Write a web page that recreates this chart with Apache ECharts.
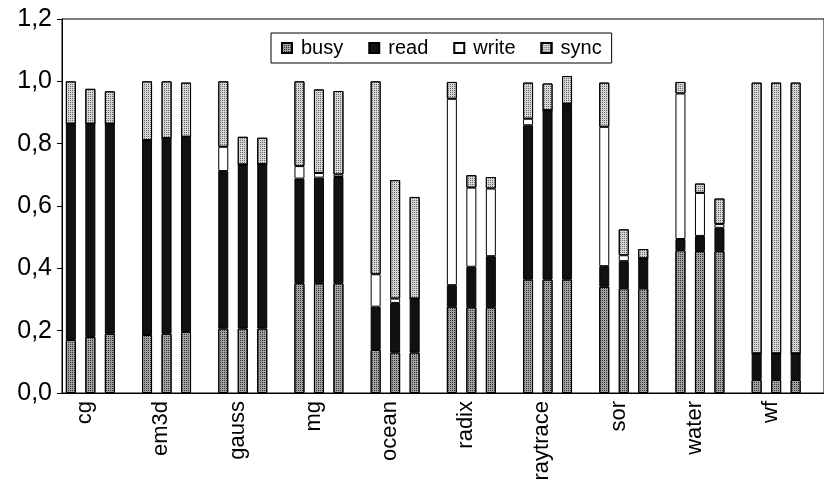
<!DOCTYPE html>
<html>
<head>
<meta charset="utf-8">
<script src="https://cdn.jsdelivr.net/npm/echarts@6/dist/echarts.min.js"></script>
<style>
html,body{margin:0;padding:0;background:#fff;}
#chart{width:824px;height:490px;}
</style>
</head>
<body>
<div id="chart"></div>
<script>
const categories = ['cg','em3d','gauss','mg','ocean','radix','raytrace','sor','water','wf'];
const seriesNames = ['busy','read','write','sync'];
const yTicks = [0, 0.2, 0.4, 0.6, 0.8, 1.0, 1.2];

// first bar of each group
const busy1  = [0.170, 0.186, 0.207, 0.352, 0.138, 0.277, 0.364, 0.341, 0.458, 0.042];
const read1  = [0.694, 0.625, 0.505, 0.336, 0.139, 0.069, 0.495, 0.066, 0.036, 0.085];
const write1 = [0.000, 0.000, 0.078, 0.040, 0.104, 0.598, 0.021, 0.447, 0.467, 0.000];
const sync1  = [0.136, 0.189, 0.210, 0.272, 0.619, 0.054, 0.116, 0.142, 0.037, 0.869];
// second bar of each group
const busy2  = [0.180, 0.190, 0.207, 0.352, 0.130, 0.275, 0.364, 0.336, 0.455, 0.042];
const read2  = [0.684, 0.628, 0.526, 0.339, 0.159, 0.130, 0.543, 0.087, 0.049, 0.085];
const write2 = [0.000, 0.000, 0.000, 0.015, 0.014, 0.254, 0.000, 0.019, 0.138, 0.000];
const sync2  = [0.112, 0.182, 0.089, 0.268, 0.380, 0.040, 0.086, 0.083, 0.030, 0.869];
// third bar of each group
const busy3  = [0.190, 0.196, 0.207, 0.352, 0.130, 0.275, 0.364, 0.336, 0.455, 0.042];
const read3  = [0.674, 0.626, 0.527, 0.341, 0.173, 0.164, 0.564, 0.096, 0.075, 0.085];
const write3 = [0.000, 0.000, 0.000, 0.008, 0.000, 0.217, 0.000, 0.000, 0.012, 0.000];
const sync3  = [0.104, 0.174, 0.085, 0.268, 0.326, 0.037, 0.089, 0.030, 0.082, 0.869];

const runs = [
  [busy1, read1, write1, sync1],
  [busy2, read2, write2, sync2],
  [busy3, read3, write3, sync3]
];
const fills = { busy: '#a2a2a2', read: '#111111', write: '#ffffff', sync: '#d6d6d6' };
const dots = { busy: '#333333', sync: '#666666' };

function styleFor(nm) {
  const s = { color: fills[nm], borderColor: '#000', borderWidth: 1 };
  if (dots[nm]) {
    s.decal = { symbol: 'rect', symbolSize: 1, dashArrayX: [1, 1], dashArrayY: [1, 1], rotation: 0, color: dots[nm] };
  }
  return s;
}

const series = [];
runs.forEach((run, r) => {
  run.forEach((arr, k) => {
    const nm = seriesNames[k];
    series.push({
      name: nm,
      type: 'bar',
      stack: 'run' + r,
      data: arr,
      barWidth: 10,
      barGap: '95%',
      itemStyle: styleFor(nm),
      emphasis: { disabled: true }
    });
  });
});
// empty fourth slot in each group (reserved space, as in the original)
series.push({ name: 'spacer', type: 'bar', stack: 'spacer', data: [], barWidth: 10, barGap: '95%' });

const FONT = '"Liberation Sans", Arial, sans-serif';
const chart = echarts.init(document.getElementById('chart'));
chart.setOption({
  animation: false,
  backgroundColor: '#fff',
  legend: {
    data: seriesNames,
    left: 271, top: 33,
    itemWidth: 10, itemHeight: 10, itemGap: 25,
    borderColor: '#000', borderWidth: 1,
    padding: [5, 10, 5, 10],
    icon: 'rect',
    textStyle: { fontSize: 20, fontFamily: FONT, color: '#000', padding: [0, 0, 0, 4] }
  },
  grid: {
    left: 62, top: 19, width: 788, height: 374,
    show: true, borderColor: '#000', borderWidth: 1, containLabel: false
  },
  xAxis: {
    type: 'category',
    data: categories,
    axisLine: { lineStyle: { color: '#000', width: 1 } },
    axisTick: { show: false },
    axisLabel: {
      rotate: 90, margin: 8, interval: 0,
      formatter: v => '{t|' + v + '}\n{sp| }',
      rich: {
        t: { fontSize: 22, fontFamily: FONT, color: '#000' },
        sp: { fontSize: 2, height: 30, lineHeight: 30 }
      }
    }
  },
  yAxis: {
    type: 'value',
    min: yTicks[0], max: yTicks[yTicks.length - 1], interval: 0.2,
    axisLine: { show: true, lineStyle: { color: '#000', width: 1 } },
    axisTick: { show: true, inside: false, length: 5, lineStyle: { color: '#000' } },
    splitLine: { show: false },
    axisLabel: {
      margin: 10, fontSize: 25, fontFamily: FONT, color: '#000',
      formatter: v => v.toFixed(1).replace('.', ',')
    }
  },
  series: series
});
</script>
</body>
</html>
